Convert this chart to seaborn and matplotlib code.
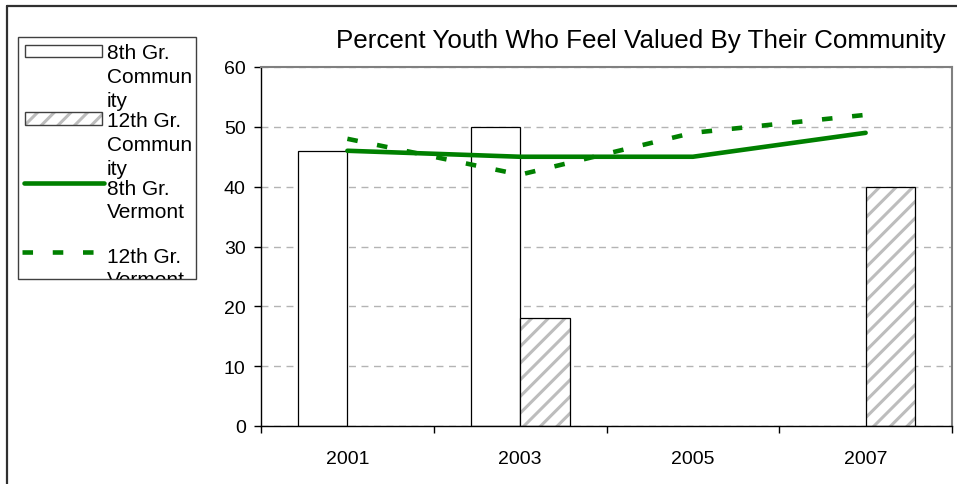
import numpy as np
import pandas as pd
import matplotlib.pyplot as plt
from matplotlib.patches import Rectangle
from matplotlib.lines import Line2D
import seaborn as sns

# chart data
years = ['2001', '2003', '2005', '2007']
eighth_community = [46, 50, np.nan, np.nan]
twelfth_community = [np.nan, 18, np.nan, 40]
eighth_vermont = [46, 45, 45, 49]
twelfth_vermont = [48, 42, 49, 52]
bar_series = ['8th Gr. Community', '12th Gr. Community']
title = 'Percent Youth Who Feel Valued By Their Community'

green = '#008000'

sns.set_theme(style='white')
plt.rcParams['font.family'] = ['Liberation Sans', 'DejaVu Sans']
plt.rcParams['hatch.linewidth'] = 2.2

fig = plt.figure(figsize=(9.57, 4.85), dpi=100)
ax = fig.add_axes([261 / 957, 58 / 485, 691 / 957, 359 / 485])

bars = pd.DataFrame({
    'year': years * 2,
    'series': [bar_series[0]] * len(years) + [bar_series[1]] * len(years),
    'value': eighth_community + twelfth_community,
}).dropna()

sns.barplot(data=bars, x='year', y='value', hue='series', order=years,
            hue_order=bar_series, palette=['white', 'white'], saturation=1,
            width=0.572, edgecolor='black', linewidth=0.9, legend=False, ax=ax)

# hatched 12th grade bars: grey hatch, black outline on top
for p in ax.containers[1]:
    p.set_hatch('//')
    p.set_edgecolor('#bdbdbd')
    p.set_linewidth(0)
    ax.add_patch(Rectangle(p.get_xy(), p.get_width(), p.get_height(),
                           fill=False, ec='black', lw=0.9, zorder=p.get_zorder() + 0.1))

sns.lineplot(x=years, y=eighth_vermont, color=green, lw=3.3, sort=False, ax=ax,
             solid_capstyle='round', zorder=5)
sns.lineplot(x=years, y=twelfth_vermont, color=green, lw=3.3, sort=False, ax=ax,
             linestyle=(0, (2.3, 4.3)), zorder=5)

ax.set_xlim(-0.5, 3.5)
ax.set_ylim(0, 60)
ax.set_yticks(range(0, 61, 10))
ax.set_xlabel('')
ax.set_ylabel('')
ax.set_axisbelow(True)
ax.yaxis.grid(True, color='#b4b4b4', linestyle=(0, (5, 4)), lw=1)
ax.xaxis.grid(False)

ax.set_xticks(np.arange(-0.5, 4, 1), minor=True)
ax.tick_params(axis='x', which='major', length=0, pad=17, labelsize=14, colors='black')
ax.tick_params(axis='x', which='minor', length=5, width=1, direction='out', bottom=True, color='black')
ax.tick_params(axis='y', which='major', length=5, width=1, direction='out', left=True,
               pad=6, labelsize=14, colors='black')

for side in ['left', 'bottom']:
    ax.spines[side].set_color('black')
    ax.spines[side].set_linewidth(1)
for side in ['top', 'right']:
    ax.spines[side].set_color('#808080')
    ax.spines[side].set_linewidth(1.5)

# overlay in pixel coordinates for frame, title and legend
ov = fig.add_axes([0, 0, 1, 1], zorder=10)
ov.set_xlim(0, 957)
ov.set_ylim(485, 0)
ov.axis('off')
ov.patch.set_alpha(0)

ov.add_line(Line2D([7, 7], [7, 490], color='#303030', lw=1.6, clip_on=False))
ov.add_line(Line2D([7, 960], [7, 7], color='#303030', lw=1.6, clip_on=False))

ov.text(641, 41, title, ha='center', va='center', fontsize=18.7, color='black')

frame = Rectangle((18, 38), 178, 242, fill=False, ec='#404040', lw=1)
ov.add_patch(frame)
ov.add_patch(Rectangle((25, 45.7), 77, 12, fc='white', ec='#404040', lw=1))
ov.add_patch(Rectangle((25, 113), 77, 12.7, fc='white', ec='#bdbdbd', lw=0, hatch='//'))
ov.add_patch(Rectangle((25, 113), 77, 12.7, fill=False, ec='#404040', lw=1))
ov.add_line(Line2D([24, 104], [184.3, 184.3], color=green, lw=3.3, solid_capstyle='round'))
ov.add_line(Line2D([22, 97], [252.7, 252.7], color=green, lw=3.3, linestyle=(0, (2.3, 4.3))))

legend_lines = [
    ('8th Gr.', 59), ('Commun', 83), ('ity', 107),
    ('12th Gr.', 127), ('Commun', 151), ('ity', 175),
    ('8th Gr.', 195), ('Vermont', 218),
    ('12th Gr.', 263), ('Vermont', 286),
]
for txt, yb in legend_lines:
    t = ov.text(107, yb, txt, ha='left', va='baseline', fontsize=15, color='black',
                clip_on=True)
    t.set_clip_path(frame)

fig.savefig('out.png', dpi=100)
